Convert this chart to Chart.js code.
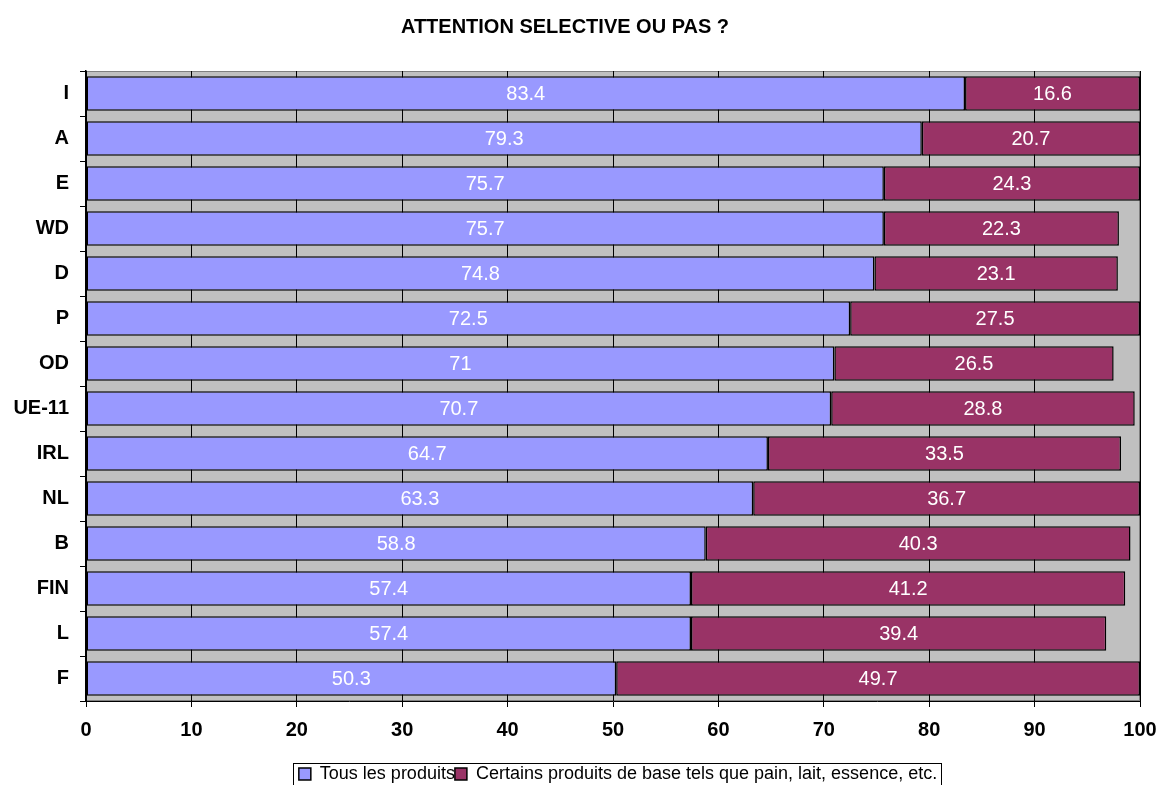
<!DOCTYPE html>
<html>
<head>
<meta charset="utf-8">
<script src="https://cdn.jsdelivr.net/npm/chart.js@4/dist/chart.umd.min.js"></script>
<style>
  html, body { margin: 0; padding: 0; background: #fff; }
  #wrap { width: 1160px; height: 785px; }
</style>
</head>
<body>
<div id="wrap"><canvas id="bars"></canvas></div>
<script>
var countries = ['I', 'A', 'E', 'WD', 'D', 'P', 'OD', 'UE-11', 'IRL', 'NL', 'B', 'FIN', 'L', 'F'];
var tousProduits = [83.4, 79.3, 75.7, 75.7, 74.8, 72.5, 71, 70.7, 64.7, 63.3, 58.8, 57.4, 57.4, 50.3];
var certainsProduits = [16.6, 20.7, 24.3, 22.3, 23.1, 27.5, 26.5, 28.8, 33.5, 36.7, 40.3, 41.2, 39.4, 49.7];
var xTicks = [0, 10, 20, 30, 40, 50, 60, 70, 80, 90, 100];

Chart.defaults.font.family = '"Liberation Sans", Arial, sans-serif';
Chart.defaults.color = '#000';

// grey plot area + frame
var plotBg = {
    id: 'plotBg',
    beforeDraw: function(chart) {
        var a = chart.chartArea, c = chart.ctx;
        c.save();
        c.fillStyle = '#c0c0c0';
        c.fillRect(a.left, a.top, a.right - a.left, a.bottom - a.top);
        c.strokeStyle = '#808080';
        c.lineWidth = 1;
        c.strokeRect(a.left + 0.5, a.top + 0.5, a.right - a.left - 1, a.bottom - a.top - 1);
        c.restore();
    }
};

// values written inside the bars
var barLabels = {
    id: 'barLabels',
    afterDatasetsDraw: function(chart) {
        var c = chart.ctx;
        c.save();
        c.font = '20px "Liberation Sans", Arial, sans-serif';
        c.fillStyle = '#fff';
        c.textAlign = 'center';
        c.textBaseline = 'middle';
        chart.data.datasets.forEach(function(ds, i) {
            chart.getDatasetMeta(i).data.forEach(function(bar, j) {
                var p = bar.getProps(['x', 'y', 'base'], true);
                c.fillText(String(ds.data[j]), (p.x + p.base) / 2, p.y + 1);
            });
        });
        c.restore();
    }
};

// title a bit left of centre, legend a bit right of centre, frame round legend
var titleShift = -15;
var legendShift = 38;
var legendBox = {
    id: 'legendBox',
    afterLayout: function(chart) {
        chart.legend.left += legendShift;
        chart.legend.right += legendShift;
        if (chart.titleBlock) {
            chart.titleBlock.left += titleShift;
            chart.titleBlock.right += titleShift;
        }
    },
    afterDraw: function(chart) {
        var l = chart.legend, c = chart.ctx;
        var w = l.lineWidths[0];
        var left = l.left + (l.right - l.left - w) / 2;
        c.save();
        c.strokeStyle = '#000';
        c.lineWidth = 1;
        c.strokeRect(Math.round(left) - 5.5, Math.round(l.top) - 1.5, Math.round(w) + 10, 40);
        c.restore();
    }
};

var ctx = document.getElementById('bars').getContext('2d');
var myChart = new Chart(ctx, {
    type: 'bar',
    data: {
        labels: countries,
        datasets: [{
            label: 'Tous les produits',
            data: tousProduits,
            backgroundColor: '#9999ff',
            borderColor: '#000',
            borderWidth: 1.5,
            borderSkipped: false
        }, {
            label: 'Certains produits de base tels que pain, lait, essence, etc.',
            data: certainsProduits,
            backgroundColor: '#993366',
            borderColor: '#000',
            borderWidth: 1.5,
            borderSkipped: false
        }]
    },
    options: {
        responsive: true,
        maintainAspectRatio: false,
        animation: false,
        indexAxis: 'y',
        layout: { padding: { left: 0, right: 0, top: 0, bottom: -8 } },
        datasets: { bar: { barPercentage: 0.77, categoryPercentage: 1 } },
        plugins: {
            title: {
                display: true,
                text: 'ATTENTION SELECTIVE OU PAS ?',
                font: { size: 20, weight: 'bold' },
                padding: { top: 15, bottom: 32 }
            },
            legend: {
                position: 'bottom',
                labels: {
                    boxWidth: 12,
                    boxHeight: 12,
                    padding: 0,
                    font: { size: 18 }
                }
            },
            tooltip: { enabled: false }
        },
        scales: {
            x: {
                stacked: true,
                min: 0,
                max: 100,
                afterBuildTicks: function(axis) {
                    axis.ticks = xTicks.map(function(v) { return { value: v }; });
                },
                grid: { color: '#000', lineWidth: 1, tickLength: 6, drawTicks: true },
                border: { color: '#000', width: 1 },
                ticks: { font: { size: 20, weight: 'bold' }, padding: 11 },
                afterFit: function(axis) {
                    axis.height = 64;
                    axis.paddingLeft = 0;
                    axis.paddingRight = 20;
                }
            },
            y: {
                stacked: true,
                grid: { drawOnChartArea: false, color: '#000', tickLength: 6, offset: true },
                border: { color: '#000', width: 1.5 },
                ticks: { font: { size: 20, weight: 'bold' }, padding: 11 },
                afterFit: function(axis) { axis.width = 86; }
            }
        }
    },
    plugins: [plotBg, barLabels, legendBox]
});
</script>
</body>
</html>
